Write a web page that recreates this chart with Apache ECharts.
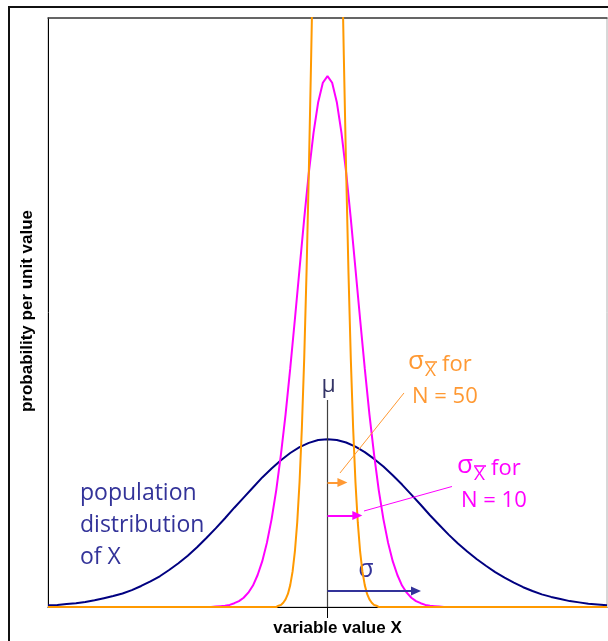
<!DOCTYPE html>
<html>
<head>
<meta charset="utf-8">
<script src="https://cdn.jsdelivr.net/npm/echarts@6/dist/echarts.min.js"></script>
<style>
  html, body { margin: 0; padding: 0; background: #ffffff; }
  #chart { width: 608px; height: 641px; }
</style>
</head>
<body>
<div id="chart"></div>
<script>
// Population distribution of X, in units of sigma about the mean mu
const popX = [-3.0,-2.9,-2.8,-2.7,-2.6,-2.5,-2.4,-2.3,-2.2,-2.1,-2.0,-1.9,-1.8,-1.7,-1.6,-1.5,-1.4,-1.3,-1.2,-1.1,-1.0,
  -0.9,-0.8,-0.7,-0.6,-0.5,-0.4,-0.3,-0.2,-0.1,0.0,0.1,0.2,0.3,0.4,0.5,0.6,0.7,0.8,0.9,1.0,
  1.1,1.2,1.3,1.4,1.5,1.6,1.7,1.8,1.9,2.0,2.1,2.2,2.3,2.4,2.5,2.6,2.7,2.8,2.9,3.0];
const popY = [0.004,0.005,0.007,0.009,0.012,0.016,0.021,0.026,0.032,0.040,0.050,0.061,0.073,0.088,0.104,0.122,0.142,0.164,0.187,0.211,0.236,
  0.260,0.284,0.308,0.329,0.349,0.366,0.380,0.390,0.397,0.399,0.397,0.391,0.381,0.368,0.352,0.334,0.313,0.291,0.267,0.243,
  0.218,0.195,0.172,0.151,0.132,0.114,0.098,0.083,0.070,0.058,0.047,0.038,0.030,0.024,0.019,0.014,0.011,0.008,0.006,0.004];

// Distribution of the sample mean for N = 10
const n10X = [-3.0,-1.25,-1.2,-1.15,-1.1,-1.05,-1.0,-0.95,-0.9,-0.85,-0.8,-0.75,-0.7,-0.65,-0.6,-0.55,-0.5,-0.45,-0.4,-0.35,-0.3,-0.25,-0.2,-0.15,-0.1,-0.05,
  0.0,0.05,0.1,0.15,0.2,0.25,0.3,0.35,0.4,0.45,0.5,0.55,0.6,0.65,0.7,0.75,0.8,0.85,0.9,0.95,1.0,1.05,1.1,1.15,1.2,1.25,3.0];
const n10Y = [0,0,0.001,0.002,0.003,0.005,0.009,0.014,0.022,0.034,0.051,0.076,0.109,0.153,0.209,0.278,0.362,0.458,0.567,0.684,0.804,0.923,1.033,1.127,1.200,1.246,
  1.262,1.246,1.200,1.127,1.033,0.923,0.804,0.684,0.567,0.458,0.362,0.278,0.209,0.153,0.109,0.076,0.051,0.034,0.022,0.014,0.009,0.005,0.003,0.002,0.001,0,0];

// Distribution of the sample mean for N = 50
const n50X = [-3.0,-0.55,-0.525,-0.5,-0.475,-0.45,-0.425,-0.4,-0.375,-0.35,-0.325,-0.3,-0.275,-0.25,-0.225,-0.2,-0.175,-0.15,-0.125,-0.1,-0.075,-0.05,-0.025,
  0.0,0.025,0.05,0.075,0.1,0.125,0.15,0.175,0.2,0.225,0.25,0.275,0.3,0.325,0.35,0.375,0.4,0.425,0.45,0.475,0.5,0.525,0.55,3.0];
const n50Y = [0,0,0.003,0.005,0.010,0.018,0.031,0.052,0.084,0.132,0.201,0.297,0.426,0.591,0.796,1.038,1.312,1.607,1.909,2.197,2.451,2.650,2.777,
  2.821,2.777,2.650,2.451,2.197,1.909,1.607,1.312,1.038,0.796,0.591,0.426,0.297,0.201,0.132,0.084,0.052,0.031,0.018,0.010,0.005,0.003,0,0];

const pairs = (xs, ys) => xs.map((x, i) => [x, ys[i]]);

const NAVY = '#000080';
const MAGENTA = '#FF00FF';
const ORANGE = '#FF9900';
const ORANGE_TEXT = '#FF9933';
const INDIGO = '#333399';
const UI_FONT = '"Open Sans", "Noto Sans", sans-serif';

// sigma with an x-bar subscript, followed by "for" and the sample size line
function sigmaBarLabel(x, baseline, color, nText) {
  return {
    type: 'group',
    children: [
      { type: 'text', x: x, y: baseline - 11, style: { text: 'σ', font: '26px ' + UI_FONT, fill: color, align: 'left', verticalAlign: 'middle' } },
      { type: 'text', x: x + 17, y: baseline - 2, style: { text: 'X', font: '19px ' + UI_FONT, fill: color, align: 'left', verticalAlign: 'middle' } },
      { type: 'line', shape: { x1: x + 17, y1: baseline - 11, x2: x + 29, y2: baseline - 11 }, style: { stroke: color, lineWidth: 1.6 } },
      { type: 'text', x: x + 34, y: baseline - 8.5, style: { text: 'for', font: '22px ' + UI_FONT, fill: color, align: 'left', verticalAlign: 'middle' } },
      { type: 'text', x: x + 4, y: baseline + 23.5, style: { text: nText, font: '22px ' + UI_FONT, fill: color, align: 'left', verticalAlign: 'middle' } }
    ]
  };
}

// a straight annotation segment between two data points, optionally ending in an arrowhead
function segment(from, to, color, width, arrow) {
  return [
    { coord: from, symbol: 'none', lineStyle: { color: color, width: width, type: 'solid' } },
    { coord: to, symbol: arrow ? 'triangle' : 'none', symbolSize: [9, 10] }
  ];
}

const chart = echarts.init(document.getElementById('chart'), null, { renderer: 'canvas' });

const hidden = { show: false };
const markLineBase = { silent: true, animation: false, label: { show: false }, emphasis: { disabled: true }, lineStyle: { type: 'solid' } };

chart.setOption({
  animation: false,
  backgroundColor: '#ffffff',
  grid: { left: 48, right: 1, top: 18, bottom: 34, show: true, borderColor: '#b0b0b0', borderWidth: 1, containLabel: false },
  xAxis: [
    {
      type: 'value', min: -3, max: 3, position: 'bottom',
      axisLine: { show: true, onZero: false, lineStyle: { color: '#000000', width: 1 } },
      axisTick: { show: true, customValues: [0], length: 11, lineStyle: { color: '#000000', width: 1 } },
      axisLabel: hidden, splitLine: hidden
    },
    {
      type: 'value', min: -3, max: 3, position: 'top',
      axisLine: { show: true, onZero: false, lineStyle: { color: '#404040', width: 1.5 } },
      axisTick: hidden, axisLabel: hidden, splitLine: hidden
    }
  ],
  yAxis: {
    type: 'value', min: 0, max: 1.4, position: 'left',
    axisLine: { show: true, onZero: false, lineStyle: { color: '#000000', width: 1 } },
    axisTick: hidden, axisLabel: hidden, splitLine: hidden
  },
  series: [
    {
      name: 'population', type: 'line', data: pairs(popX, popY),
      showSymbol: false, smooth: false, clip: true,
      lineStyle: { color: NAVY, width: 2 },
      markLine: Object.assign({}, markLineBase, {
        data: [
          segment([0, 0], [0, 0.492], '#404040', 1.2, false),   // mean mu
          segment([0, 0.038], [0.95, 0.038], INDIGO, 2.2, true) // population sigma
        ]
      })
    },
    {
      name: 'N = 10', type: 'line', data: pairs(n10X, n10Y),
      showSymbol: false, smooth: false, clip: true,
      lineStyle: { color: MAGENTA, width: 2 },
      markLine: Object.assign({}, markLineBase, {
        data: [
          segment([0, 0.2175], [0.32, 0.2175], MAGENTA, 2, true),
          segment([1.336, 0.2864], [0.392, 0.2282], MAGENTA, 1, false)
        ]
      })
    },
    {
      name: 'N = 50', type: 'line', data: pairs(n50X, n50Y),
      showSymbol: false, smooth: false, clip: true,
      lineStyle: { color: ORANGE, width: 2 },
      markLine: Object.assign({}, markLineBase, {
        data: [
          segment([0, 0.2959], [0.16, 0.2959], ORANGE_TEXT, 2, true),
          segment([0.821, 0.5087], [0.134, 0.3185], ORANGE_TEXT, 1, false)
        ]
      })
    }
  ],
  graphic: [
    // outer frame
    { type: 'rect', z: 100, shape: { x: 9, y: 7, width: 700, height: 700 }, style: { fill: null, stroke: '#111111', lineWidth: 2 } },
    // axis titles
    { type: 'text', x: 27, y: 311, rotation: Math.PI / 2,
      style: { text: 'probability per unit value', font: 'bold 17px "Liberation Sans", Arial, sans-serif', fill: '#000000', align: 'center', verticalAlign: 'middle' } },
    { type: 'text', x: 337.5, y: 628,
      style: { text: 'variable value X', font: 'bold 17px "Liberation Sans", Arial, sans-serif', fill: '#000000', align: 'center', verticalAlign: 'middle' } },
    // mean and sigma markers
    { type: 'text', x: 328.5, y: 385.5, style: { text: 'μ', font: '23px ' + UI_FONT, fill: '#333366', align: 'center', verticalAlign: 'middle' } },
    { type: 'text', x: 366, y: 570, style: { text: 'σ', font: '25px ' + UI_FONT, fill: INDIGO, align: 'center', verticalAlign: 'middle' } },
    // population label
    { type: 'text', x: 80, y: 493.5, style: { text: 'population', font: '23px ' + UI_FONT, fill: INDIGO, align: 'left', verticalAlign: 'middle' } },
    { type: 'text', x: 80, y: 525.5, style: { text: 'distribution', font: '23px ' + UI_FONT, fill: INDIGO, align: 'left', verticalAlign: 'middle' } },
    { type: 'text', x: 80, y: 557, style: { text: 'of X', font: '23px ' + UI_FONT, fill: INDIGO, align: 'left', verticalAlign: 'middle' } },
    // sample-mean labels
    sigmaBarLabel(408, 373, ORANGE_TEXT, 'N = 50'),
    sigmaBarLabel(457, 477, MAGENTA, 'N = 10')
  ]
});
</script>
</body>
</html>
